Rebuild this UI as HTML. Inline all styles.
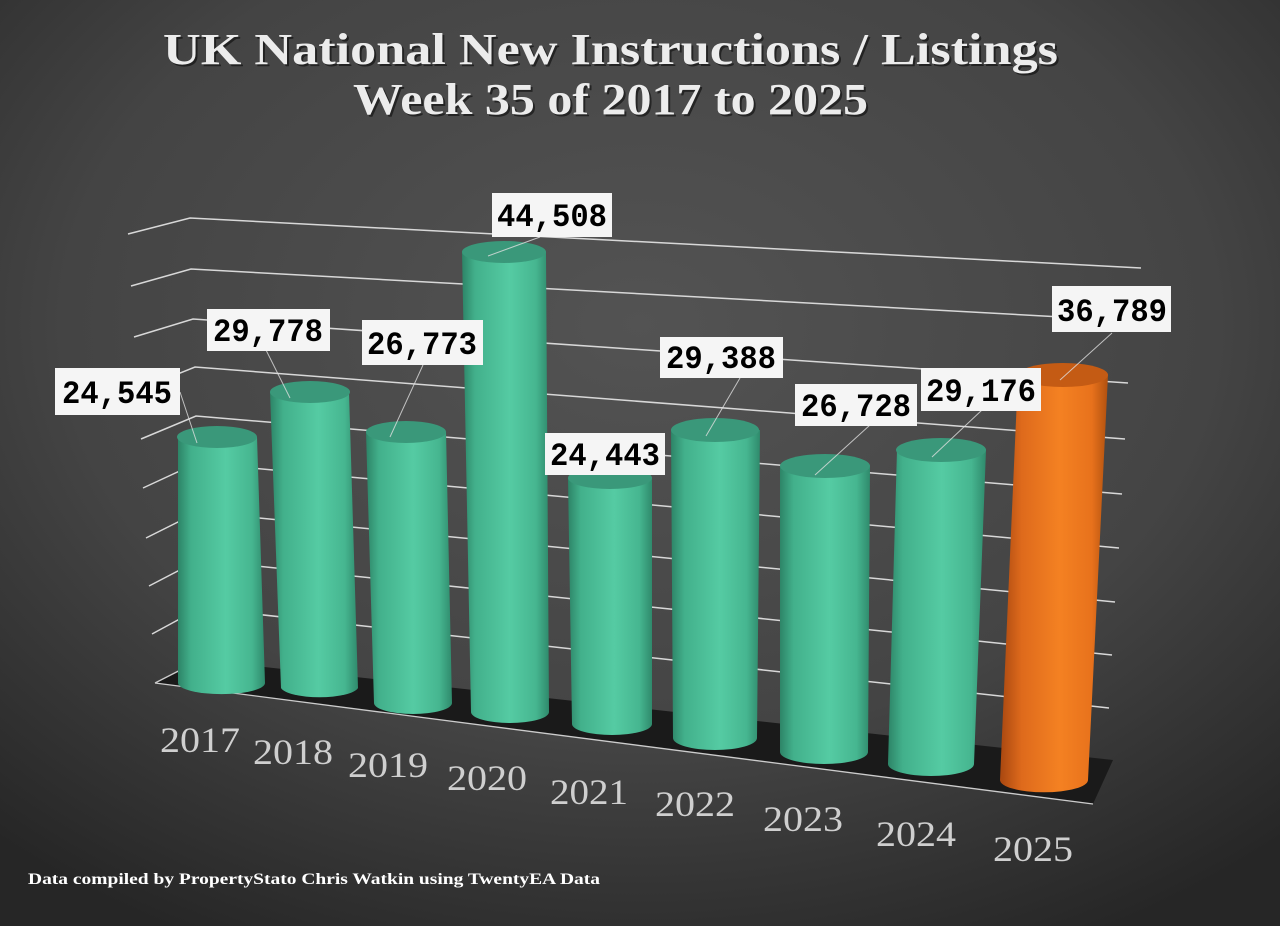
<!DOCTYPE html>
<html><head><meta charset="utf-8"><style>
html,body{margin:0;padding:0;width:1280px;height:926px;overflow:hidden;background:#3a3a3a}
svg{display:block}
</style></head><body>
<svg width="1280" height="926" viewBox="0 0 1280 926" xmlns="http://www.w3.org/2000/svg">
<defs>
<radialGradient id="bg" cx="0.5" cy="0.35" r="0.75">
<stop offset="0" stop-color="#535353"/><stop offset="0.6" stop-color="#444"/><stop offset="1" stop-color="#262626"/>
</radialGradient>
<linearGradient id="g" x1="0" x2="1" y1="0" y2="0">
<stop offset="0" stop-color="#2d8467"/><stop offset="0.15" stop-color="#42b08b"/><stop offset="0.55" stop-color="#55cba3"/><stop offset="0.85" stop-color="#46b690"/><stop offset="1" stop-color="#2f8a6c"/>
</linearGradient>
<linearGradient id="o" x1="0" x2="1" y1="0" y2="0">
<stop offset="0" stop-color="#a84710"/><stop offset="0.2" stop-color="#de6a1c"/><stop offset="0.55" stop-color="#f48122"/><stop offset="0.85" stop-color="#e8721c"/><stop offset="1" stop-color="#b0500f"/>
</linearGradient>
</defs>
<rect width="1280" height="926" fill="url(#bg)"/>
<g font-family="'Liberation Serif',serif" font-weight="bold" font-size="44" fill="#ececec">
<text x="165" y="66" fill="#000" opacity="0.5" textLength="895" lengthAdjust="spacingAndGlyphs">UK National New Instructions / Listings</text>
<text x="163" y="64" textLength="895" lengthAdjust="spacingAndGlyphs">UK National New Instructions / Listings</text>
<text x="355" y="116" fill="#000" opacity="0.5" textLength="515" lengthAdjust="spacingAndGlyphs">Week 35 of 2017 to 2025</text>
<text x="353" y="114" textLength="515" lengthAdjust="spacingAndGlyphs">Week 35 of 2017 to 2025</text>
</g>
<polygon points="155,683 200,660 1113,760 1093,804" fill="#1a1a1a"/>
<line x1="155" y1="683" x2="1093" y2="804" stroke="#ccc" stroke-width="1.3"/>
<line x1="155" y1="683" x2="200" y2="660" stroke="#ccc" stroke-width="1.3"/>
<g stroke="#d8d8d8" stroke-width="1.5" fill="none">
<polyline points="128,234 190,218 1141,268"/>
<polyline points="131,286 191,269 1134,321"/>
<polyline points="134,337 193,319 1128,383"/>
<polyline points="138,390 195,367 1125,439"/>
<polyline points="141,439 196,416 1122,494"/>
<polyline points="143,488 197,463 1119,548"/>
<polyline points="146,538 198,512 1115,602"/>
<polyline points="149,586 199,560 1112,655"/>
<polyline points="152,634 200,608 1109,708"/>
</g>
<g>
<path d="M178,437 L178,683 A43,11 0 0 0 265,683 L257,437 Z" fill="url(#g)"/>
<ellipse cx="217" cy="437" rx="40" ry="11" fill="#3a987a"/>
<path d="M270,392 L281,688 A39,11 0 0 0 358,688 L349,392 Z" fill="url(#g)"/>
<ellipse cx="310" cy="392" rx="40" ry="11" fill="#3a987a"/>
<path d="M366,432 L374,703 A39,11 0 0 0 452,703 L446,432 Z" fill="url(#g)"/>
<ellipse cx="406" cy="432" rx="40" ry="11" fill="#3a987a"/>
<path d="M462,252 L471,712 A39,11 0 0 0 549,712 L546,252 Z" fill="url(#g)"/>
<ellipse cx="504" cy="252" rx="42" ry="11" fill="#3a987a"/>
<path d="M568,478 L572,724 A40,11 0 0 0 652,724 L652,478 Z" fill="url(#g)"/>
<ellipse cx="610" cy="478" rx="42" ry="11" fill="#3a987a"/>
<path d="M671,430 L673,738 A42,12 0 0 0 757,738 L760,430 Z" fill="url(#g)"/>
<ellipse cx="715" cy="430" rx="44" ry="12" fill="#3a987a"/>
<path d="M780,466 L780,752 A44,12 0 0 0 868,752 L870,466 Z" fill="url(#g)"/>
<ellipse cx="825" cy="466" rx="45" ry="12" fill="#3a987a"/>
<path d="M897,450 L888,764 A43,12 0 0 0 974,764 L986,450 Z" fill="url(#g)"/>
<ellipse cx="941" cy="450" rx="45" ry="12" fill="#3a987a"/>
<path d="M1018,375 L1000,780 A43,12 0 0 0 1088,780 L1108,375 Z" fill="url(#o)"/>
<ellipse cx="1063" cy="375" rx="45" ry="12" fill="#c45b14"/>
</g>
<g stroke="#e0e0e0" stroke-width="1" opacity="0.8">
<line x1="180" y1="392" x2="197" y2="443"/>
<line x1="266" y1="350" x2="290" y2="398"/>
<line x1="423" y1="365" x2="390" y2="437"/>
<line x1="540" y1="237" x2="488" y2="256"/>
<line x1="740" y1="378" x2="706" y2="436"/>
<line x1="870" y1="425" x2="815" y2="475"/>
<line x1="982" y1="410" x2="932" y2="457"/>
<line x1="1112" y1="333" x2="1060" y2="380"/>
</g>
<g font-family="'Liberation Mono',monospace" font-weight="bold" font-size="32" fill="#000">
<rect x="55" y="368" width="125" height="47" fill="#f5f5f5"/><text x="62" y="403" textLength="110" lengthAdjust="spacingAndGlyphs">24,545</text>
<rect x="207" y="309" width="123" height="42" fill="#f5f5f5"/><text x="213" y="341" textLength="110" lengthAdjust="spacingAndGlyphs">29,778</text>
<rect x="362" y="320" width="121" height="45" fill="#f5f5f5"/><text x="367" y="354" textLength="110" lengthAdjust="spacingAndGlyphs">26,773</text>
<rect x="492" y="193" width="120" height="44" fill="#f5f5f5"/><text x="497" y="226" textLength="110" lengthAdjust="spacingAndGlyphs">44,508</text>
<rect x="545" y="433" width="120" height="42" fill="#f5f5f5"/><text x="550" y="465" textLength="110" lengthAdjust="spacingAndGlyphs">24,443</text>
<rect x="660" y="337" width="123" height="41" fill="#f5f5f5"/><text x="666" y="368" textLength="110" lengthAdjust="spacingAndGlyphs">29,388</text>
<rect x="795" y="384" width="122" height="42" fill="#f5f5f5"/><text x="801" y="416" textLength="110" lengthAdjust="spacingAndGlyphs">26,728</text>
<rect x="921" y="368" width="120" height="43" fill="#f5f5f5"/><text x="926" y="401" textLength="110" lengthAdjust="spacingAndGlyphs">29,176</text>
<rect x="1052" y="286" width="119" height="46" fill="#f5f5f5"/><text x="1057" y="321" textLength="110" lengthAdjust="spacingAndGlyphs">36,789</text>
</g>
<g font-family="'Liberation Serif',serif" font-size="36" fill="#cfcfcf">
<text x="160" y="752" textLength="80" lengthAdjust="spacingAndGlyphs">2017</text>
<text x="253" y="764" textLength="80" lengthAdjust="spacingAndGlyphs">2018</text>
<text x="348" y="777" textLength="80" lengthAdjust="spacingAndGlyphs">2019</text>
<text x="447" y="790" textLength="80" lengthAdjust="spacingAndGlyphs">2020</text>
<text x="550" y="804" textLength="78" lengthAdjust="spacingAndGlyphs">2021</text>
<text x="655" y="816" textLength="80" lengthAdjust="spacingAndGlyphs">2022</text>
<text x="763" y="831" textLength="80" lengthAdjust="spacingAndGlyphs">2023</text>
<text x="876" y="846" textLength="80" lengthAdjust="spacingAndGlyphs">2024</text>
<text x="993" y="861" textLength="80" lengthAdjust="spacingAndGlyphs">2025</text>
</g>
<text x="28" y="884" font-family="'Liberation Serif',serif" font-weight="bold" font-size="16" fill="#fff" textLength="572" lengthAdjust="spacingAndGlyphs">Data compiled by PropertyStato Chris Watkin using TwentyEA Data</text>
</svg>
</body></html>
